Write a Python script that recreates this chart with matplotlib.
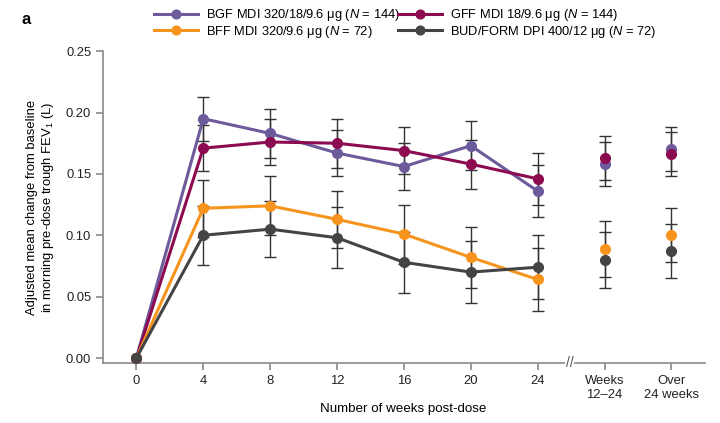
import numpy as np
import matplotlib.pyplot as plt
import matplotlib.transforms as mtransforms

plt.rcParams['font.family'] = ['Liberation Sans', 'DejaVu Sans']
plt.rcParams['font.size'] = 9.4
plt.rcParams['mathtext.fontset'] = 'custom'
plt.rcParams['mathtext.rm'] = 'Liberation Sans'
plt.rcParams['mathtext.it'] = 'Liberation Sans:italic'

weeks = [0, 4, 8, 12, 16, 20, 24]
summary_pos = [28, 32]  # "Weeks 12-24", "Over 24 weeks"
tick_pos = weeks + summary_pos
tick_labels = ['0', '4', '8', '12', '16', '20', '24', 'Weeks\n12–24', 'Over\n24 weeks']

labels = ['BGF MDI 320/18/9.6 μg ($N$ = 144)',
          'GFF MDI 18/9.6 μg ($N$ = 144)',
          'BFF MDI 320/9.6 μg ($N$ = 72)',
          'BUD/FORM DPI 400/12 μg ($N$ = 72)']
colors = ['#6d5a9b', '#8c0a50', '#f7941d', '#444444']

# weekly means (week 0 = baseline)
bgf = [0.0, 0.195, 0.183, 0.167, 0.156, 0.173, 0.136]
gff = [0.0, 0.171, 0.176, 0.175, 0.169, 0.158, 0.146]
bff = [0.0, 0.122, 0.124, 0.113, 0.101, 0.082, 0.064]
bud = [0.0, 0.100, 0.105, 0.098, 0.078, 0.070, 0.074]
# error bar half widths
bgf_err = [0, 0.018, 0.020, 0.019, 0.019, 0.020, 0.021]
gff_err = [0, 0.019, 0.019, 0.020, 0.019, 0.020, 0.021]
bff_err = [0, 0.023, 0.024, 0.023, 0.024, 0.025, 0.026]
bud_err = [0, 0.024, 0.023, 0.025, 0.025, 0.025, 0.026]

# weeks 12-24 and over 24 weeks
bgf_sum = [0.158, 0.170]
gff_sum = [0.163, 0.166]
bff_sum = [0.089, 0.100]
bud_sum = [0.080, 0.087]
bgf_sum_err = [0.018, 0.018]
gff_sum_err = [0.018, 0.018]
bff_sum_err = [0.023, 0.022]
bud_sum_err = [0.023, 0.022]

series = [(bgf, bgf_err, bgf_sum, bgf_sum_err),
          (gff, gff_err, gff_sum, gff_sum_err),
          (bff, bff_err, bff_sum, bff_sum_err),
          (bud, bud_err, bud_sum, bud_sum_err)]

fig = plt.figure(figsize=(7.2, 4.23), dpi=100)
ax = fig.add_axes([0.143, 0.142, 0.836, 0.737])

handles = []
for (vals, err, svals, serr), col, lab in zip(series, colors, labels):
    ax.errorbar(weeks[1:], vals[1:], yerr=err[1:], fmt='none', ecolor='#333333',
                elinewidth=1, capsize=4, capthick=1, zorder=2)
    ax.errorbar(summary_pos, svals, yerr=serr, fmt='none', ecolor='#333333',
                elinewidth=1, capsize=4, capthick=1, zorder=2)
for (vals, err, svals, serr), col, lab in zip(series, colors, labels):
    h, = ax.plot(weeks, vals, '-o', color=col, lw=2.2, ms=7, label=lab, zorder=3)
    ax.plot(summary_pos, svals, 'o', color=col, ms=7, zorder=3)
    handles.append(h)

ax.set_xlim(-2, 34)
ax.set_ylim(-0.004, 0.25)
ax.set_yticks(np.arange(0, 0.26, 0.05))
ax.set_yticklabels(['%.2f' % v for v in np.arange(0, 0.26, 0.05)])
ax.set_xticks(tick_pos)
ax.set_xticklabels(tick_labels, linespacing=1.25)

for s in ['top', 'right']:
    ax.spines[s].set_visible(False)
for s in ['left', 'bottom']:
    ax.spines[s].set_color('#8a8a8a')
    ax.spines[s].set_linewidth(1.2)
ax.tick_params(colors='#8a8a8a', labelcolor='#222222', length=5, width=1.2, labelsize=9.4)

# axis break mark
trans = mtransforms.blended_transform_factory(ax.transData, ax.transAxes)
ax.text(25.9, 0.0, '//', transform=trans, ha='center', va='center', fontsize=10,
        color='#555555', bbox=dict(facecolor='white', edgecolor='none', pad=0.3),
        clip_on=False, zorder=5)

ax.set_xlabel('Number of weeks post-dose', fontsize=9.6)
ax.xaxis.set_label_coords(0.498, -0.128)
ax.set_ylabel('Adjusted mean change from baseline\nin morning pre-dose trough FEV$_1$ (L)',
              fontsize=9.4, labelpad=7)

order = [0, 2, 1, 3]
fig.legend([handles[i] for i in order], [labels[i] for i in order], ncol=2,
           loc='upper left', bbox_to_anchor=(0.198, 1.01), frameon=False,
           handlelength=3.4, columnspacing=-0.15, handletextpad=0.6,
           labelspacing=0.02, fontsize=9.3, markerscale=0.9)

fig.text(0.03, 0.953, 'a', fontsize=12, fontweight='bold', va='center')

fig.savefig('out.png', dpi=100)
